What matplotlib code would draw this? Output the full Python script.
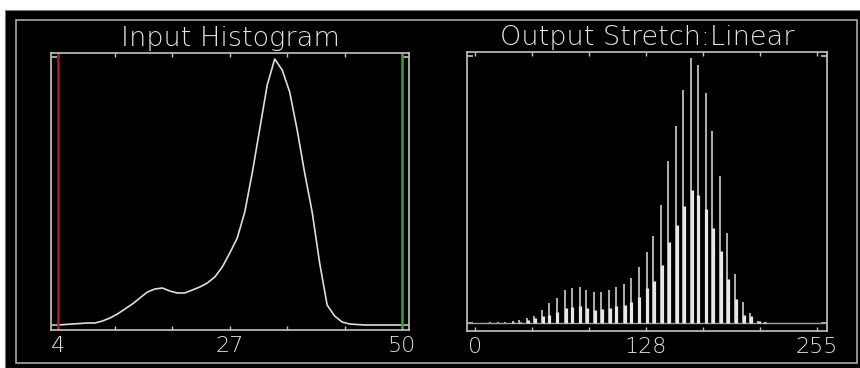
import matplotlib
matplotlib.use("Agg")
import matplotlib.pyplot as plt
from matplotlib.patches import Rectangle

# input histogram: grey levels 4..50 and their counts
input_levels = [4, 5, 6, 7, 8, 9, 10, 11, 12, 13, 14, 15, 16, 17, 18, 19, 20, 21, 22, 23,
                24, 25, 26, 27, 28, 29, 30, 31, 32, 33, 34, 35, 36, 37, 38, 39, 40, 41, 42, 43,
                44, 45, 46, 47, 48, 49, 50]
input_counts = [0, 0.5, 1, 1.5, 2, 2, 4, 7, 11, 16, 21, 27, 33, 36, 37, 34, 32, 32, 35, 38,
                42, 48, 58, 72, 87, 113, 152, 196, 240, 266, 255, 233, 195, 152, 113, 62, 20, 9, 3, 1,
                0.5, 0, 0, 0, 0, 0, 0]

# output histogram after linear stretch to 0..255
output_levels = [0, 6, 11, 17, 22, 28, 33, 39, 44, 50, 55, 61, 67, 72, 78, 83, 89, 94, 100, 105,
                 111, 116, 122, 128, 133, 139, 144, 150, 155, 161, 166, 172, 177, 183, 188, 194, 200, 205, 211, 216,
                 222, 227, 233, 238, 244, 249, 255]
output_peak = [0, 0, 1, 1, 1, 2, 3, 5, 7, 13, 20, 25, 33, 35, 36, 33, 31, 31, 33, 36,
               39, 45, 56, 71, 87, 118, 162, 197, 233, 265, 258, 230, 192, 147, 90, 49, 21, 10, 2, 1,
               0, 0, 0, 0, 0, 0, 0]
output_low = [0, 0, 0, 0, 0, 1, 1, 3, 5, 7, 8, 11, 15, 16, 17, 15, 13, 14, 15, 17,
              18, 21, 26, 35, 42, 58, 81, 98, 117, 133, 128, 114, 95, 72, 44, 24, 8, 7, 2, 1,
              0, 0, 0, 0, 0, 0, 0]

left_ticks = [4, 11.67, 19.33, 27, 34.67, 42.33, 50]
left_labels = ["4", "", "", "27", "", "", "50"]
right_ticks = [0, 42.5, 85, 127.5, 170, 212.5, 255]
right_labels = ["0", "", "", "128", "", "", "255"]

W, H = 860, 368
FG = "#c4c4c4"
TXT = "#e2e2e2"

fig = plt.figure(figsize=(W / 100, H / 100), dpi=100, facecolor="white")

# black panel with grey inner border, kept behind the axes
fig.add_artist(Rectangle((5 / W, 0), 1, 1 - 10 / H, transform=fig.transFigure,
                         facecolor="black", edgecolor="#777777", linewidth=0.8, zorder=-10))
fig.add_artist(Rectangle((16 / W, 1 - 363 / H), (857 - 16) / W, (363 - 20) / H,
                         transform=fig.transFigure, facecolor="none",
                         edgecolor="#a8a8a8", linewidth=1.2, zorder=-9))


def px_axes(x0, x1, y0, y1):
    return fig.add_axes([x0 / W, 1 - y1 / H, (x1 - x0) / W, (y1 - y0) / H])


def style(ax, ticks, labels, title):
    ax.set_facecolor("black")
    for s in ax.spines.values():
        s.set_color(FG)
        s.set_linewidth(1.2)
    ax.set_xticks(ticks)
    ax.set_xticklabels(labels, fontweight="light")
    ax.tick_params(axis="x", direction="in", length=3, width=1, color=FG,
                   top=True, labelsize=16, labelcolor=TXT, pad=4)
    ax.tick_params(axis="y", direction="in", length=4, width=1.2, color=FG,
                   right=True, labelleft=False)
    ax.set_title(title, color=TXT, fontsize=19.5, pad=5, fontweight="light")


# left: input histogram
ax1 = px_axes(51, 409, 53, 330)
ax1.plot(input_levels, input_counts, color="#dedede", linewidth=1.2)
ax1.axvline(input_levels[0], color="#a31c2c", linewidth=1.8)
ax1.axvline(input_levels[-1], color="#3c9a44", linewidth=1.8)
ax1.set_xlim(3.13, 50.93)
ax1.set_ylim(-5, 272)
ax1.set_yticks([0, 268])
style(ax1, left_ticks, left_labels, "Input Histogram")

# right: stretched output histogram
ax2 = px_axes(467, 827, 52, 331)
ax2.axhline(0, color="#a0a0a0", linewidth=1.0)
ax2.vlines(output_levels, 0, output_peak, color="#b0b0b0", linewidth=1.4)
ax2.vlines([v + 0.5 for v in output_levels], 0, output_low, color="#e8e8e8", linewidth=2.3)
ax2.set_xlim(-5.97, 262.5)
ax2.set_ylim(-8, 271)
ax2.set_yticks([0, 267])
style(ax2, right_ticks, right_labels, "Output Stretch:Linear")

fig.savefig("out.png", dpi=100, facecolor="white")
